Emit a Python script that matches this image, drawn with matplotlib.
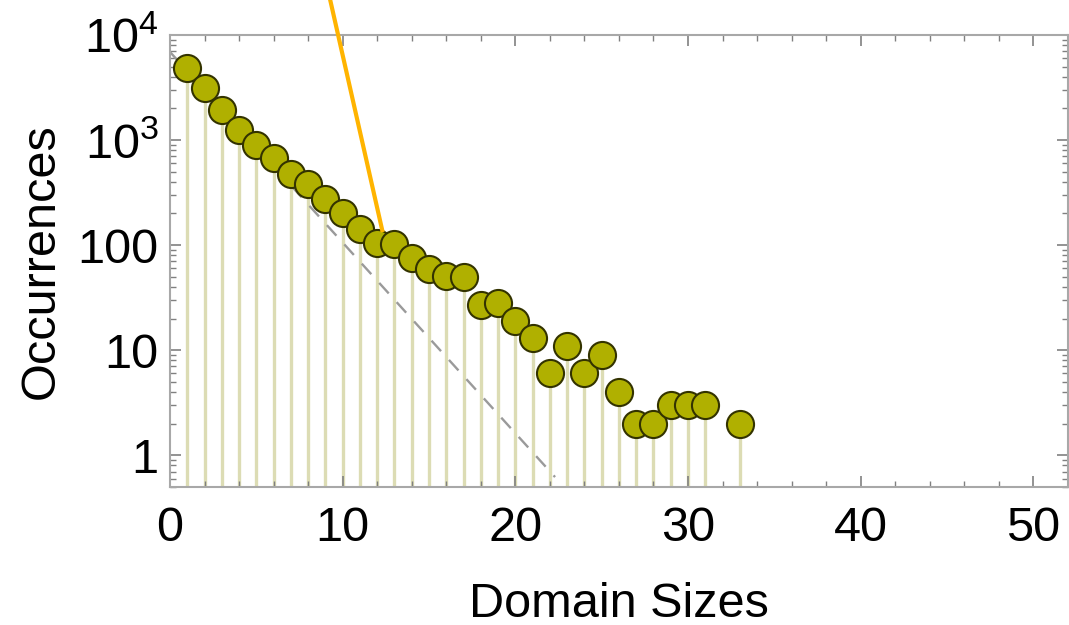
import matplotlib.pyplot as plt
from matplotlib.ticker import FixedLocator, NullFormatter
import numpy as np

plt.rcParams['font.family'] = ['Liberation Sans', 'DejaVu Sans']
plt.rcParams['mathtext.fontset'] = 'custom'
plt.rcParams['mathtext.rm'] = 'Liberation Sans'
plt.rcParams['mathtext.default'] = 'regular'

# domain size histogram
sizes = [1, 2, 3, 4, 5, 6, 7, 8, 9, 10, 11, 12, 13, 14, 15, 16, 17,
         18, 19, 20, 21, 22, 23, 24, 25, 26, 27, 28, 29, 30, 31, 33]
counts = [4800, 3150, 1950, 1260, 890, 670, 480, 380, 273, 200, 142, 104, 102,
          75, 59, 51, 50, 27, 28, 19, 13, 6, 11, 6, 9, 4, 2, 2, 3, 3, 3, 2]

# exponential fit (straight on log axis)
fit_x = [0, 22.3]
fit_y = [6900, 0.62]

# pointer line drawn from above the frame
pointer_x = [9.28, 12.29]
pointer_y = [21500, 139]

ytick_vals = [1, 10, 100, 1000, 10000]
ytick_labels = ['1', '10', '100', '$10^3$', '$10^4$']
ymin, ymax = 0.5, 10000

fig = plt.figure(figsize=(10.69, 6.25), dpi=100)
ax = fig.add_axes([0.159, 0.221, 0.84, 0.723])

ax.vlines(sizes, ymin, counts, color='#dcdcb4', lw=2.4, zorder=1)
ax.plot(fit_x, fit_y, color='#9a9a9a', lw=1.7, ls=(0, (6, 5)), zorder=2)
ax.plot(sizes, counts, 'o', ms=19.5, mfc='#b0b000', mec='#333300', mew=1.5, zorder=3)
ax.plot(pointer_x, pointer_y, color='#ffb400', lw=3, clip_on=False, zorder=4)

ax.set_yscale('log')
ax.set_xlim(0, 52)
ax.set_ylim(ymin, ymax)

ax.yaxis.set_major_locator(FixedLocator(ytick_vals))
ax.set_yticklabels(ytick_labels)
minor = [m * 10**e for e in range(-1, 4) for m in range(2, 10)]
ax.yaxis.set_minor_locator(FixedLocator(minor))
ax.yaxis.set_minor_formatter(NullFormatter())
ax.set_xticks([0, 10, 20, 30, 40, 50])
ax.set_xticks(np.arange(0, 53, 2), minor=True)

for s in ax.spines.values():
    s.set_color('#a8a8a8')
    s.set_linewidth(1.5)

ax.tick_params(which='both', direction='in', top=True, right=True,
               color='#808080', labelsize=35)
ax.tick_params(which='major', length=8, width=1.2)
ax.tick_params(which='minor', length=4, width=1)
ax.tick_params(axis='x', pad=14)
ax.tick_params(axis='y', pad=8)

ax.set_xlabel('Domain Sizes', fontsize=35, labelpad=22)
ax.set_ylabel('Occurrences', fontsize=35, labelpad=10)

fig.savefig('out.png', dpi=100)
